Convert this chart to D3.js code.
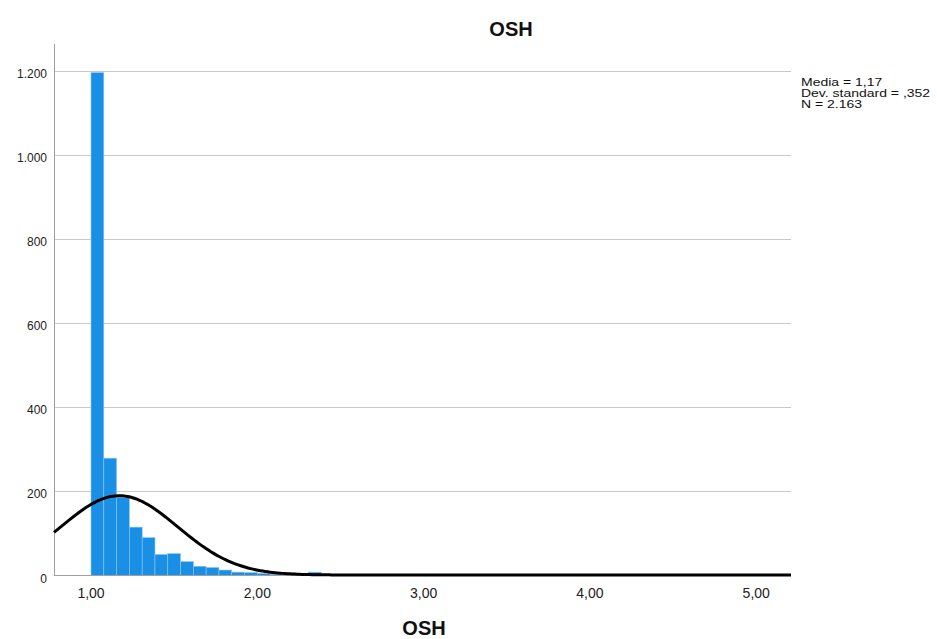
<!DOCTYPE html>
<html>
<head>
<meta charset="utf-8">
<script src="https://cdn.jsdelivr.net/npm/d3@7"></script>
<style>
  body { margin: 0; background: #fff; }
  text { font-family: "Liberation Sans", Arial, sans-serif; }
</style>
</head>
<body>
<div id="chart"></div>
<script>
// Histogram counts, bins of width 1/13 starting at 1,00
var binStart = 1
var binWidth = 1 / 13
var counts = [1196, 279, 186, 115, 90, 50, 52, 33, 22, 19, 13, 8, 7, 5, 3, 6, 2, 8, 0, 0, 0, 0, 0, 1]
var xTicks = [1, 2, 3, 4, 5]
var yTicks = [0, 200, 400, 600, 800, 1000, 1200]
var stats = ["Media = 1,17", "Dev. standard = ,352", "N = 2.163"]
var mean = 1.17
var sd = 0.352
var n = 2163

var width = 937
var height = 639
var plotLeft = 54, plotRight = 791, plotTop = 44, plotBottom = 575.5

var svg = d3.select("#chart")
            .append("svg")
            .attr("width", width)
            .attr("height", height)

var locale = d3.formatLocale({decimal: ",", thousands: ".", grouping: [3], currency: ["", ""]})
var fmtY = locale.format(",d")
var fmtX = locale.format(".2f")

// Scales
var xscale = d3.scaleLinear()
               .domain([0.7775, 5.209])
               .range([plotLeft, plotRight])

var yscale = d3.scaleLinear()
               .domain([0, 1264])
               .range([plotBottom, plotTop])

// Gridlines
svg.append("g")
  .selectAll("line")
  .data(yTicks.slice(1))
  .enter()
  .append("line")
  .attr("x1", plotLeft)
  .attr("x2", plotRight)
  .attr("y1", d => Math.round(yscale(d)) + 0.5)
  .attr("y2", d => Math.round(yscale(d)) + 0.5)
  .attr("stroke", "#c8c8c8")
  .attr("stroke-width", 1)

// Bars
svg.append("g")
  .selectAll("rect")
  .data(counts)
  .enter()
  .append("rect")
  .attr("x", (d, i) => xscale(binStart + i * binWidth))
  .attr("width", (d, i) => xscale(binStart + (i + 1) * binWidth) - xscale(binStart + i * binWidth))
  .attr("y", d => yscale(d))
  .attr("height", d => yscale(0) - yscale(d))
  .attr("fill", "#1a8fe6")
  .attr("stroke", "#8cc6f2")
  .attr("stroke-width", 0.6)

// Axes lines
svg.append("line")
  .attr("x1", plotLeft + 0.5).attr("x2", plotLeft + 0.5)
  .attr("y1", plotTop).attr("y2", plotBottom)
  .attr("stroke", "#a0a0a0")

svg.append("line")
  .attr("x1", plotLeft).attr("x2", plotRight)
  .attr("y1", plotBottom).attr("y2", plotBottom)
  .attr("stroke", "#a0a0a0")

// Normal curve
var dom = xscale.domain()
var curveX = d3.range(0, 301).map(i => dom[0] + i * (dom[1] - dom[0]) / 300)
var line = d3.line()
             .x(d => xscale(d))
             .y(d => yscale(n * binWidth / (sd * Math.sqrt(2 * Math.PI)) * Math.exp(-0.5 * Math.pow((d - mean) / sd, 2))) - 0.5)

svg.append("path")
  .datum(curveX)
  .attr("d", line)
  .attr("fill", "none")
  .attr("stroke", "#000")
  .attr("stroke-width", 3)

// Tick labels
svg.append("g")
  .selectAll("text")
  .data(yTicks)
  .enter()
  .append("text")
  .attr("x", 47)
  .attr("y", d => yscale(d) + 7)
  .attr("text-anchor", "end")
  .attr("font-size", "12px")
  .attr("fill", "#222")
  .text(fmtY)

svg.append("g")
  .selectAll("text")
  .data(xTicks)
  .enter()
  .append("text")
  .attr("x", d => xscale(d))
  .attr("y", 597.5)
  .attr("text-anchor", "middle")
  .attr("font-size", "14px")
  .attr("fill", "#222")
  .text(fmtX)

// Titles
svg.append("text")
  .attr("x", 511)
  .attr("y", 36)
  .attr("text-anchor", "middle")
  .attr("font-size", "20px")
  .attr("font-weight", "bold")
  .attr("fill", "#111")
  .text("OSH")

svg.append("text")
  .attr("x", 424)
  .attr("y", 635)
  .attr("text-anchor", "middle")
  .attr("font-size", "20px")
  .attr("font-weight", "bold")
  .attr("fill", "#111")
  .text("OSH")

// Stats box (text squeezed vertically, lines set tight)
svg.append("g")
  .selectAll("text")
  .data(stats)
  .enter()
  .append("text")
  .attr("transform", (d, i) => "translate(801," + (85.5 + i * 11) + ") scale(1,0.8)")
  .attr("font-size", "14px")
  .attr("fill", "#111")
  .text(d => d)
</script>
</body>
</html>
